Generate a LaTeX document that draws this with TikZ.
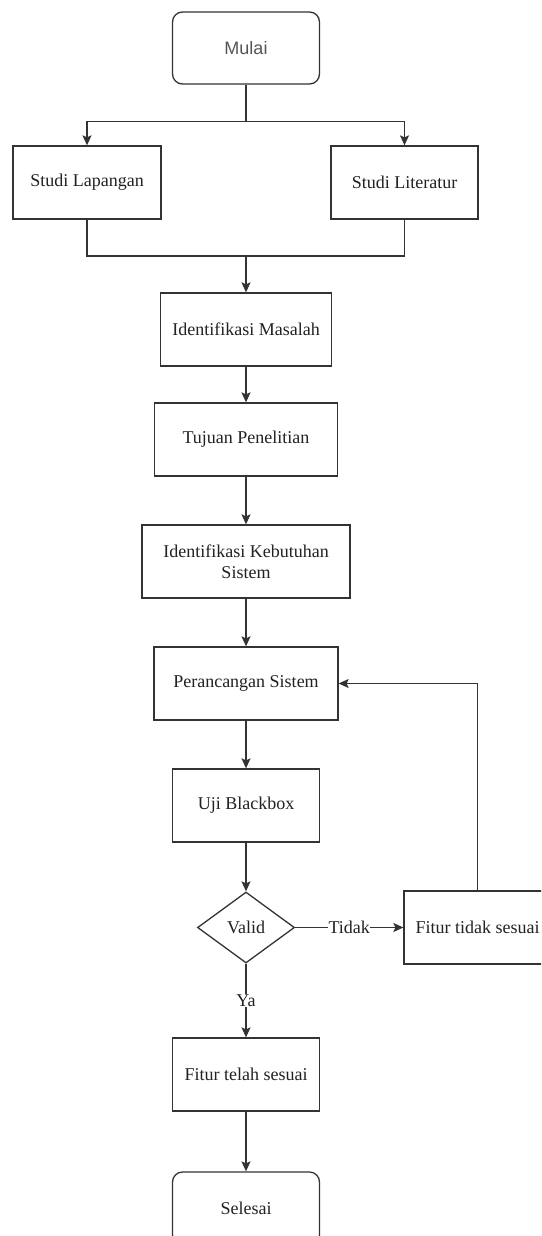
\documentclass[tikz,border=0pt]{standalone}
\usepackage{fontspec}
\setmainfont{Liberation Serif}
\newfontfamily\sansf{Liberation Sans}
\usetikzlibrary{arrows.meta,shapes.geometric}
\definecolor{ln}{HTML}{333333}
\definecolor{txt}{HTML}{222222}
\definecolor{gtxt}{HTML}{555555}
\tikzset{
  box/.style={draw=ln, line width=1.3pt, fill=white, minimum width=147pt, minimum height=73pt, inner sep=2pt, align=center, text=txt, font=\fontsize{18}{21}\selectfont},
  term/.style={box, rounded corners=10pt},
  dec/.style={draw=ln, line width=1.3pt, fill=white, shape=diamond, minimum width=97pt, minimum height=71pt, inner sep=0pt, text=txt, font=\fontsize{18}{21}\selectfont},
  conn/.style={draw=ln, line width=1.3pt},
  arr/.style={conn, -{Stealth[length=10pt,width=9pt,inset=2pt]}},
  elab/.style={fill=white, inner sep=0.5pt, text=txt, font=\fontsize{18}{21}\selectfont}
}
\begin{document}
\begin{tikzpicture}[x=1pt,y=-1pt]
\useasboundingbox (0,0) rectangle (541,1236);
\clip (0,0) rectangle (541,1236);
\fill[white] (0,0) rectangle (541,1236);
\node[term, minimum width=147pt, minimum height=72pt, text=gtxt, font=\sansf\fontsize{18}{21}\selectfont] (mulai) at (246,48) {Mulai};
\node[box, minimum width=148pt] (sl) at (87,182.5) {Studi Lapangan};
\node[box] (slit) at (404.5,182.5) {Studi Literatur};
\node[box, minimum width=171pt] (im) at (246,329.5) {Identifikasi Masalah};
\node[box, minimum width=183pt] (tp) at (246,439.5) {Tujuan Penelitian};
\node[box, minimum width=208pt] (iks) at (246,561.5) {Identifikasi Kebutuhan\\Sistem};
\node[box, minimum width=184pt] (ps) at (246,683.5) {Perancangan Sistem};
\node[box] (ub) at (246,805.5) {Uji Blackbox};
\node[dec] (valid) at (246,927.5) {Valid};
\node[box] (fts) at (477.5,927.5) {Fitur tidak sesuai};
\node[box] (ftl) at (246,1074.5) {Fitur telah sesuai};
\node[term] (sel) at (246,1208.5) {Selesai};
\coordinate (split) at (246,121.5);
\coordinate (join) at (246,256);
\draw[conn] (mulai.south) -- (split);
\draw[arr] (split) -| (sl.north);
\draw[arr] (split) -| (slit.north);
\draw[conn] (sl.south) |- (join);
\draw[conn] (slit.south) |- (join);
\draw[arr] (join) -- (im.north);
\draw[arr] (im) -- (tp);
\draw[arr] (tp) -- (iks);
\draw[arr] (iks) -- (ps);
\draw[arr] (ps) -- (ub);
\draw[arr] (ub) -- (valid);
\draw[arr] (valid.east) -- node[elab] {Tidak} (fts.west);
\draw[arr] (fts.north) |- (ps.east);
\draw[arr] (valid.south) -- node[elab] {Ya} (ftl.north);
\draw[arr] (ftl) -- (sel);
\end{tikzpicture}
\end{document}
